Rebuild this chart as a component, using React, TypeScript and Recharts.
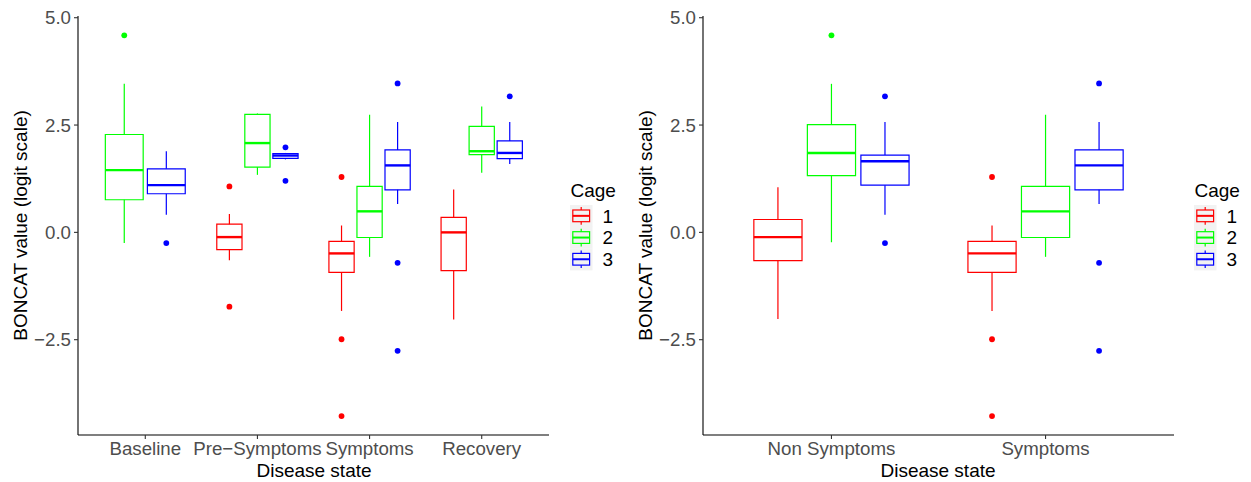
import React from 'react';
import { ComposedChart, XAxis, YAxis, Scatter, ReferenceArea, ReferenceLine, Label } from 'recharts';

const CAGES = ['1', '2', '3'];
const CAGE_COLORS = ['#FF0000', '#00FF00', '#0000FF'];

const PHASE_STATES = ['Baseline', 'Pre−Symptoms', 'Symptoms', 'Recovery'];
const SYMPTOM_STATES = ['Non Symptoms', 'Symptoms'];

const Y_TICKS = [-2.5, 0, 2.5, 5];

// [lower whisker, Q1, median, Q3, upper whisker] per disease state; null = no samples for that cage
const phaseCage1 = [
  null,
  [-0.65, -0.4, -0.11, 0.19, 0.43],
  [-1.83, -0.93, -0.49, -0.21, 0.16],
  [-2.03, -0.89, 0.0, 0.35, 1.0]
];
const phaseCage2 = [
  [-0.25, 0.76, 1.45, 2.28, 3.46],
  [1.34, 1.52, 2.08, 2.75, 2.77],
  [-0.57, -0.12, 0.49, 1.07, 2.74],
  [1.39, 1.81, 1.89, 2.47, 2.93]
];
const phaseCage3 = [
  [0.41, 0.9, 1.1, 1.48, 1.89],
  [1.7, 1.725, 1.79, 1.835, 1.85],
  [0.66, 0.99, 1.56, 1.92, 2.57],
  [1.59, 1.72, 1.85, 2.13, 2.57]
];

const phaseOutliers1 = [[], [1.07, -1.73], [1.29, -2.49, -4.28], []];
const phaseOutliers2 = [[4.59], [], [], []];
const phaseOutliers3 = [[-0.25], [1.98, 1.2], [3.47, -0.71, -2.76], [3.17]];

const symptomCage1 = [
  [-2.02, -0.66, -0.11, 0.3, 1.05],
  [-1.83, -0.93, -0.49, -0.21, 0.16]
];
const symptomCage2 = [
  [-0.23, 1.32, 1.85, 2.51, 3.46],
  [-0.57, -0.12, 0.49, 1.07, 2.74]
];
const symptomCage3 = [
  [0.41, 1.1, 1.655, 1.8, 2.57],
  [0.66, 0.99, 1.56, 1.92, 2.57]
];

const symptomOutliers1 = [[], [1.29, -2.49, -4.28]];
const symptomOutliers2 = [[4.59], []];
const symptomOutliers3 = [[3.17, -0.25], [3.47, -0.71, -2.76]];

const FONT = '"Liberation Sans", Arial, Helvetica, sans-serif';

type Stats = (number[] | null)[];

// ggplot-style dodge: 0.75 of the category width split between the cages present
function layoutBoxes(stats: Stats[]) {
  const out: { cage: number; cat: number; center: number; half: number }[] = [];
  const nCats = stats[0].length;
  for (let c = 0; c < nCats; c++) {
    const present = stats.map((s, i) => (s[c] ? i : -1)).filter((i) => i >= 0);
    const slot = 0.75 / present.length;
    present.forEach((cage, k) => {
      out.push({
        cage,
        cat: c,
        center: c + 1 + (k - (present.length - 1) / 2) * slot,
        half: (slot * 0.9) / 2
      });
    });
  }
  return out;
}

function renderBoxes(stats: Stats[]) {
  return layoutBoxes(stats).flatMap(({ cage, cat, center, half }) => {
    const [lo, q1, med, q3, hi] = stats[cage][cat] as number[];
    const color = CAGE_COLORS[cage];
    const key = `${cage}-${cat}`;
    return [
      <ReferenceLine
        key={`uw-${key}`}
        segment={[{ x: center, y: q3 }, { x: center, y: hi }]}
        stroke={color}
        strokeWidth={1.2}
      />,
      <ReferenceLine
        key={`lw-${key}`}
        segment={[{ x: center, y: lo }, { x: center, y: q1 }]}
        stroke={color}
        strokeWidth={1.2}
      />,
      <ReferenceArea
        key={`box-${key}`}
        x1={center - half}
        x2={center + half}
        y1={q1}
        y2={q3}
        fill="#ffffff"
        fillOpacity={1}
        stroke={color}
        strokeWidth={1.2}
      />,
      <ReferenceLine
        key={`med-${key}`}
        segment={[{ x: center - half, y: med }, { x: center + half, y: med }]}
        stroke={color}
        strokeWidth={2.4}
      />
    ];
  });
}

function renderOutliers(stats: Stats[], outliers: number[][][]) {
  const boxes = layoutBoxes(stats);
  return outliers.map((perCat, cage) => {
    const pts = perCat.flatMap((vals, cat) => {
      const b = boxes.find((bb) => bb.cage === cage && bb.cat === cat);
      return b ? vals.map((v) => ({ x: b.center, y: v })) : [];
    });
    const color = CAGE_COLORS[cage];
    return (
      <Scatter
        key={`out-${cage}`}
        data={pts}
        dataKey="y"
        isAnimationActive={false}
        shape={(p: any) => <circle cx={p.cx} cy={p.cy} r={2.9} fill={color} />}
      />
    );
  });
}

function BoxPanel({
  states,
  stats,
  outliers,
  width,
  rightMargin
}: {
  states: string[];
  stats: Stats[];
  outliers: number[][][];
  width: number;
  rightMargin: number;
}) {
  return (
    <ComposedChart width={width} height={482} margin={{ top: 16, right: rightMargin, bottom: 0, left: 0 }}>
      <XAxis
        type="number"
        dataKey="x"
        domain={[0.4, states.length + 0.6]}
        ticks={states.map((_, i) => i + 1)}
        tickFormatter={(v) => states[v - 1]}
        interval={0}
        height={47}
        stroke="#000"
        strokeWidth={1.1}
        tickSize={4}
        tickMargin={3}
        tickLine={{ stroke: '#333' }}
        tick={{ fill: '#4D4D4D', fontSize: 18.7, fontFamily: FONT }}
      />
      <YAxis
        type="number"
        domain={[-4.72, 5.04]}
        ticks={Y_TICKS}
        tickFormatter={(v) => v.toFixed(1).replace('-', '−')}
        width={78}
        stroke="#000"
        strokeWidth={1.1}
        tickSize={4}
        tickMargin={3}
        tickLine={{ stroke: '#333' }}
        tick={{ fill: '#4D4D4D', fontSize: 18.7, fontFamily: FONT }}
      >
        <Label
          content={({ viewBox }: any) => {
            const x = viewBox.x + 20;
            const y = viewBox.y + viewBox.height / 2;
            return (
              <text
                x={x}
                y={y}
                transform={`rotate(-90, ${x}, ${y})`}
                textAnchor="middle"
                dominantBaseline="central"
                fill="#000"
                fontSize={19}
                fontFamily={FONT}
              >
                BONCAT value (logit scale)
              </text>
            );
          }}
        />
      </YAxis>
      {renderBoxes(stats)}
      {renderOutliers(stats, outliers)}
    </ComposedChart>
  );
}

function CageLegend({ left }: { left: number }) {
  const keyH = 21.7;
  return (
    <svg
      width={60}
      height={110}
      style={{ position: 'absolute', left, top: 170, fontFamily: FONT }}
    >
      <text x={8.5} y={26.5} fontSize={19} fill="#000">
        Cage
      </text>
      {CAGES.map((c, i) => {
        const y0 = 35 + i * keyH;
        const color = CAGE_COLORS[i];
        return (
          <g key={c}>
            <rect x={8} y={y0} width={22.5} height={keyH + 0.3} fill="#F2F2F2" />
            <line x1={19.2} x2={19.2} y1={y0 + 2} y2={y0 + keyH - 2} stroke={color} strokeWidth={1.2} />
            <rect x={10.8} y={y0 + 5} width={16.8} height={keyH - 10} fill="#F2F2F2" stroke={color} strokeWidth={1.2} />
            <line x1={10.8} x2={27.6} y1={y0 + keyH / 2} y2={y0 + keyH / 2} stroke={color} strokeWidth={2} />
            <text x={40.5} y={y0 + keyH / 2 + 6.8} fontSize={19} fill="#000">
              {c}
            </text>
          </g>
        );
      })}
    </svg>
  );
}

function XTitle({ center }: { center: number }) {
  return (
    <svg
      width={200}
      height={30}
      style={{ position: 'absolute', left: center - 100, top: 452, fontFamily: FONT }}
    >
      <text x={100} y={24.5} textAnchor="middle" fontSize={19} fill="#000">
        Disease state
      </text>
    </svg>
  );
}

export default function App() {
  return (
    <div
      style={{
        position: 'fixed',
        left: 0,
        top: 0,
        width: 1251,
        height: 482,
        background: '#fff',
        overflow: 'hidden'
      }}
    >
      <div style={{ position: 'absolute', left: 0, top: 0 }}>
        <BoxPanel
          states={PHASE_STATES}
          stats={[phaseCage1, phaseCage2, phaseCage3]}
          outliers={[phaseOutliers1, phaseOutliers2, phaseOutliers3]}
          width={620}
          rightMargin={71}
        />
      </div>
      <XTitle center={313.5} />
      <CageLegend left={562} />
      <div style={{ position: 'absolute', left: 625, top: 0 }}>
        <BoxPanel
          states={SYMPTOM_STATES}
          stats={[symptomCage1, symptomCage2, symptomCage3]}
          outliers={[symptomOutliers1, symptomOutliers2, symptomOutliers3]}
          width={626}
          rightMargin={77}
        />
      </div>
      <XTitle center={938.3} />
      <CageLegend left={1186} />
    </div>
  );
}
